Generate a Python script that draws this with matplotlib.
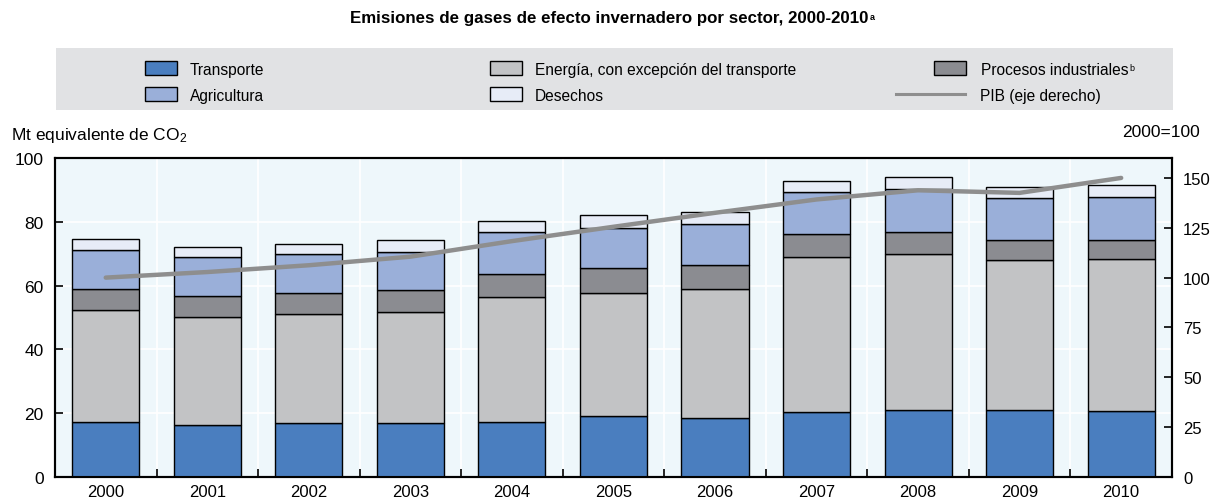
import matplotlib
matplotlib.use("Agg")
import matplotlib.pyplot as plt
import numpy as np
from matplotlib.patches import Patch, Rectangle
from matplotlib.lines import Line2D

plt.rcParams['font.family'] = ['Liberation Sans', 'DejaVu Sans']
plt.rcParams['mathtext.default'] = 'regular'

# Data (Mt CO2 equivalent, GDP index 2000=100)
years = ['2000', '2001', '2002', '2003', '2004', '2005', '2006', '2007', '2008', '2009', '2010']
transporte = [17.2, 16.4, 16.9, 16.8, 17.2, 19.1, 18.6, 20.3, 21.0, 21.0, 20.7]
energia = [35.1, 33.8, 34.2, 34.9, 39.1, 38.7, 40.2, 48.6, 49.0, 46.9, 47.6]
procesos = [6.5, 6.5, 6.5, 6.8, 7.4, 7.6, 7.8, 7.4, 6.9, 6.4, 6.0]
agricultura = [12.5, 12.3, 12.2, 12.0, 13.0, 12.6, 12.8, 12.9, 13.4, 13.2, 13.6]
desechos = [3.2, 3.2, 3.3, 3.9, 3.6, 4.0, 3.8, 3.7, 3.7, 3.4, 3.7]
pib = [100, 102.8, 106.2, 110.5, 118.3, 125.5, 132.5, 139.2, 143.8, 142.5, 150]

c_trans = '#4a7ebf'
c_energ = '#c2c3c5'
c_proc = '#8b8c91'
c_agri = '#9aafd9'
c_dese = '#e7ecf7'
c_line = '#8e8e8e'

W, H = 1219, 502
fig = plt.figure(figsize=(W / 100, H / 100), dpi=100)
ax = fig.add_axes([0.0451, 0.0478, 0.9163, 0.6355])
ax.set_facecolor('#eef7fb')

x = np.arange(len(years))
w = 0.66
series = [(transporte, c_trans), (energia, c_energ), (procesos, c_proc),
          (agricultura, c_agri), (desechos, c_dese)]
bottom = np.zeros(len(years))
for vals, col in series:
    ax.bar(x, vals, w, bottom=bottom, color=col, edgecolor='black', linewidth=1.0, zorder=3)
    bottom += np.array(vals)

ax.set_xlim(-0.5, len(years) - 0.5)
ax.set_ylim(0, 100)
ax.set_yticks([0, 20, 40, 60, 80, 100])
ax.set_xticks(x)
ax.set_xticklabels(years)
ax.set_xticks(x[:-1] + 0.5, minor=True)
ax.tick_params(axis='x', which='major', length=0, pad=5, labelsize=12)
ax.tick_params(axis='x', which='minor', direction='in', length=6, width=1.2)
ax.tick_params(axis='y', direction='in', length=6, width=1.2, pad=8, labelsize=12.5)
ax.grid(axis='y', color='white', linewidth=1.2, zorder=0)
ax.grid(axis='x', which='minor', color='white', linewidth=1.2, zorder=0)
for s in ax.spines.values():
    s.set_linewidth(1.5)

ax2 = ax.twinx()
ax2.plot(x, pib, color=c_line, linewidth=3.2, solid_capstyle='round', zorder=5)
ax2.set_ylim(0, 160)
ax2.set_yticks([0, 25, 50, 75, 100, 125, 150])
ax2.tick_params(axis='y', direction='in', length=6, width=1.2, pad=8, labelsize=12)
for s in ax2.spines.values():
    s.set_linewidth(1.5)

# Title and axis captions
title = fig.text(0.5, 0.964, 'Emisiones de gases de efecto invernadero por sector, 2000-2010',
                 ha='center', va='center', fontsize=12.2, fontweight='bold')
fig.text(0.009, 0.731, r'Mt equivalente de CO$_2$', ha='left', va='center', fontsize=12.5)
fig.text(0.984, 0.737, '2000=100', ha='right', va='center', fontsize=12.5)

# Legend band
fig.patches.append(Rectangle((56 / W, 1 - 111 / H), 1117 / W, 62 / H, transform=fig.transFigure,
                             facecolor='#e1e2e4', edgecolor='none', zorder=0))

fs_leg = 11.2
row1 = 1 - 70 / H
row2 = 1 - 96 / H


def patch(col):
    return Patch(facecolor=col, edgecolor='black', linewidth=1.0)


def legend_item(handle, label, xpx, ypos, hlen=2.05, pad=0.85):
    return fig.legend([handle], [label], loc='center left', bbox_to_anchor=(xpx / W, ypos),
                      frameon=False, fontsize=fs_leg, handlelength=hlen, handleheight=1.0,
                      handletextpad=pad, borderpad=0, borderaxespad=0)


legend_item(patch(c_trans), 'Transporte', 145, row1)
legend_item(patch(c_agri), 'Agricultura', 145, row2)
legend_item(patch(c_energ), u'Energía, con excepción del transporte', 490, row1)
legend_item(patch(c_dese), 'Desechos', 490, row2)
leg_p = legend_item(patch(c_proc), 'Procesos industriales', 934, row1, pad=0.95)
legend_item(Line2D([], [], color=c_line, linewidth=2.2), 'PIB (eje derecho)', 896, row2,
            hlen=4.45, pad=0.95)

# footnote superscripts placed after layout
fig.canvas.draw()
inv = fig.transFigure.inverted()
tb = title.get_window_extent()
x0, y0 = inv.transform((tb.x1 + 1, tb.y1 - 2))
fig.text(x0, y0, 'a', ha='left', va='top', fontsize=6.5, fontweight='bold')
pb = leg_p.get_texts()[0].get_window_extent()
x1, y1 = inv.transform((pb.x1 + 1, pb.y1 - 1))
fig.text(x1, y1, 'b', ha='left', va='top', fontsize=6.5)

fig.savefig('out.png', dpi=100)
